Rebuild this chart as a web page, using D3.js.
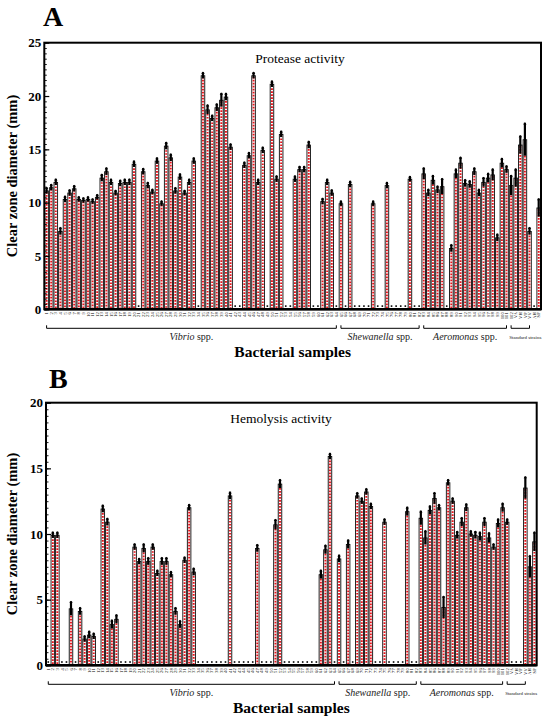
<!DOCTYPE html>
<html><head><meta charset="utf-8">
<script src="https://cdn.jsdelivr.net/npm/d3@7"></script>
<style>body{margin:0;background:#fff}svg{display:block}</style>
</head><body>
<svg id="chart" width="550" height="722"></svg>
<script>
const sampleLabels = ["1","2","3","4","5","6","7","8","9","10","11","12","13","14","15","16","17","18","19","20",
"21","22","23","24","25","26","27","28","29","30","31","32","33","34","35","36","37","38","39","40",
"41","42","43","44","45","46","47","48","49","50","51","52","53","54","55","56","57","58","59","60",
"61","62","63","64","65","66","67","68","69","70","71","72","73","74","75","76","77","78","79","80",
"81","82","83","84","85","86","87","88","89","90","91","92","93","94","95","96","97","98","99","100",
"101","102","VA","VH","VP","VV","AH","SP"];

const proteaseValues = [11.1,11.4,11.9,7.3,10.3,10.9,11.3,10.3,10.2,10.3,
10.1,10.5,12.3,12.9,11.9,10.9,11.8,11.9,11.9,13.6,
0,12.9,11.6,11.0,13.9,9.9,15.3,14.2,11.1,12.4,
10.9,11.9,13.9,0,21.9,18.7,17.9,18.9,19.6,19.9,
15.2,0,0,13.5,14.4,21.9,11.9,14.9,0,21.1,
12.2,16.4,0,0,12.2,13.1,13.1,15.4,0,0,
10.1,11.9,10.9,0,9.9,0,11.7,0,0,0,
0,9.9,0,0,11.6,0,0,0,0,12.2,
0,0,12.7,10.9,12.1,11.2,11.5,0,5.7,12.7,
13.7,11.8,11.7,12.9,10.9,11.9,12.3,12.6,6.7,13.7,
13.1,11.6,12.3,15.4,15.9,7.3,0,9.5];

const proteaseErrors = [0.25,0.25,0.25,0.3,0.25,0.25,0.25,0.2,0.2,0.2,
0.2,0.2,0.3,0.3,0.25,0.2,0.25,0.25,0.25,0.25,
0,0.25,0.25,0.2,0.25,0.2,0.3,0.3,0.25,0.25,
0.2,0.25,0.25,0,0.25,0.4,0.25,0.3,0.6,0.3,
0.25,0,0,0.25,0.25,0.25,0.25,0.25,0,0.25,
0.25,0.25,0,0,0.25,0.25,0.25,0.3,0,0,
0.25,0.25,0.25,0,0.2,0,0.25,0,0,0,
0,0.2,0,0,0.25,0,0,0,0,0.2,
0,0,0.5,0.3,0.4,0.3,0.7,0,0.3,0.4,
0.5,0.3,0.3,0.3,0.3,0.4,0.4,0.5,0.3,0.4,
0.3,0.9,0.8,0.8,1.5,0.3,0,0.8];

const hemolysisValues = [0,9.9,9.9,0,0,4.3,0,4.1,2.0,2.3,
2.2,0,11.9,10.9,3.1,3.5,0,0,0,9.0,
7.9,8.9,7.9,9.0,7.0,7.9,7.9,6.9,4.1,3.1,
8.0,12.0,7.1,0,0,0,0,0,0,0,
12.9,0,0,0,0,0,8.9,0,0,0,
10.7,13.8,0,0,0,0,0,0,0,0,
6.9,8.8,15.9,0,8.1,0,9.2,0,12.9,12.5,
13.2,12.1,0,0,10.9,0,0,0,0,11.7,
0,0,11.2,9.7,11.8,12.7,12.0,4.4,13.9,12.5,
9.9,10.9,12.0,10.0,9.9,9.8,10.9,9.7,9.0,10.8,
12.0,10.9,0,0,0,13.5,7.5,9.4];

const hemolysisErrors = [0,0.2,0.2,0,0,0.5,0,0.25,0.2,0.25,
0.2,0,0.25,0.25,0.3,0.3,0,0,0,0.2,
0.2,0.3,0.25,0.2,0.2,0.25,0.25,0.2,0.25,0.25,
0.2,0.2,0.25,0,0,0,0,0,0,0,
0.25,0,0,0,0,0,0.25,0,0,0,
0.35,0.3,0,0,0,0,0,0,0,0,
0.3,0.3,0.2,0,0.25,0,0.3,0,0.2,0.2,
0.2,0.2,0,0,0.2,0,0,0,0,0.3,
0,0,0.5,0.5,0.3,0.4,0.2,0.8,0.2,0.2,
0.25,0.3,0.25,0.2,0.25,0.3,0.3,0.35,0.2,0.3,
0.3,0.2,0,0,0,0.8,0.8,0.7];

const groupNames = ["Vibrio","Shewanella","Aeromonas","Standard strains"];
const groupSuffix = [" spp."," spp."," spp.",""];
const groupStart = [0,64,82,101];
const groupEnd = [63,81,100,105];

const panelLetters = ["A","B"];
const panelTitles = ["Protease activity","Hemolysis activity"];
const yMaxes = [25,20];
const yTickValues = [[0,5,10,15,20,25],[0,5,10,15,20]];
const yTitle = "Clear zone diameter (mm)";
const xTitle = "Bacterial samples";

const font = "'Liberation Serif','Times New Roman',serif";
const svg = d3.select("#chart");

const panels = [
  {letter:panelLetters[0], title:panelTitles[0], values:proteaseValues, errors:proteaseErrors, yMax:yMaxes[0], ticks:yTickValues[0],
   left:44.3, right:541, top:42.7, bottom:309.3, letterY:26, letterX:43, zeroMark:0.3, titleX:300},
  {letter:panelLetters[1], title:panelTitles[1], values:hemolysisValues, errors:hemolysisErrors, yMax:yMaxes[1], ticks:yTickValues[1],
   left:46, right:536.7, top:402.7, bottom:665.3, letterY:388, letterX:49, zeroMark:0.25, titleX:281}
];

panels.forEach(p => {
  const n = sampleLabels.length;
  const x = d3.scaleBand().domain(d3.range(n)).range([p.left, p.right]).paddingInner(0.22).paddingOuter(0.11);
  const y = d3.scaleLinear().domain([0, p.yMax]).range([p.bottom, p.top]);
  const g = svg.append("g");
  const bw = x.bandwidth();
  const idx = d3.range(n);
  const barIdx = idx.filter(i => p.values[i] > 0);
  const zeroIdx = idx.filter(i => !(p.values[i] > 0));

  // bars
  g.selectAll("rect.bar").data(barIdx).join("rect").attr("class","bar")
    .attr("x", i => x(i)).attr("y", i => y(p.values[i]))
    .attr("width", bw).attr("height", i => y(0) - y(p.values[i]))
    .attr("fill", "#d8d8d8").attr("stroke", "#111").attr("stroke-width", 0.9);
  g.selectAll("line.dash").data(barIdx).join("line").attr("class","dash")
    .attr("x1", i => x(i) + bw/2).attr("x2", i => x(i) + bw/2)
    .attr("y1", i => y(p.values[i]) + 1).attr("y2", y(0))
    .attr("stroke", "#fff").attr("stroke-width", 1.9);
  g.selectAll("line.dash2").data(barIdx).join("line").attr("class","dash2")
    .attr("x1", i => x(i) + bw/2).attr("x2", i => x(i) + bw/2)
    .attr("y1", i => y(p.values[i]) + 1).attr("y2", y(0))
    .attr("stroke", "#e5121a").attr("stroke-width", 1.9).attr("stroke-dasharray", "1.7,1.3");

  // error bars
  g.selectAll("line.err").data(barIdx).join("line").attr("class","err")
    .attr("x1", i => x(i) + bw/2).attr("x2", i => x(i) + bw/2)
    .attr("y1", i => y(p.values[i] - p.errors[i])).attr("y2", i => y(p.values[i] + p.errors[i]) - 1)
    .attr("stroke", "#000").attr("stroke-width", 2.2);
  g.selectAll("path.cap").data(barIdx).join("path").attr("class","cap")
    .attr("d", i => {
      const cx = x(i) + bw/2, ty = y(p.values[i] + p.errors[i]) - 1.5;
      return `M${cx - 1.7},${ty + 2.3}L${cx},${ty}L${cx + 1.7},${ty + 2.3}Z`;
    })
    .attr("fill", "#000");

  // zero markers
  g.selectAll("rect.zero").data(zeroIdx).join("rect").attr("class","zero")
    .attr("x", i => x(i) + bw/2 - 0.8).attr("y", y(p.zeroMark) - 0.8)
    .attr("width", 1.6).attr("height", 1.6).attr("fill", "#000");

  // y axis minor ticks
  const minor = d3.range(0, p.yMax + 0.001, 0.5);
  g.append("g").attr("transform", `translate(${p.left},0)`)
    .call(d3.axisLeft(y).tickValues(minor).tickSize(-2.5).tickFormat(""))
    .call(a => a.select(".domain").remove())
    .call(a => a.selectAll("line").attr("stroke", "#000").attr("stroke-width", 0.9));
  // major ticks + labels
  g.append("g").attr("transform", `translate(${p.left},0)`)
    .call(d3.axisLeft(y).tickValues(p.ticks).tickSize(-5).tickPadding(3).tickFormat(d3.format("d")))
    .call(a => a.select(".domain").remove())
    .call(a => a.selectAll("line").attr("stroke", "#000").attr("stroke-width", 1.2))
    .call(a => a.selectAll("text").attr("font-family", font).attr("font-weight", "bold")
      .attr("font-size", 13).attr("fill", "#000"));

  // frame
  g.append("rect").attr("x", p.left).attr("y", p.top).attr("width", p.right - p.left).attr("height", p.bottom - p.top)
    .attr("fill", "none").attr("stroke", "#000").attr("stroke-width", 2);
  g.append("line").attr("x1", p.left).attr("x2", p.right).attr("y1", y(0)).attr("y2", y(0))
    .attr("stroke", "#000").attr("stroke-width", 2.6);

  // sample labels
  g.selectAll("text.sl").data(idx).join("text").attr("class","sl")
    .attr("transform", i => `translate(${x(i) + bw/2 + 1.6},${p.bottom + 3}) rotate(-90)`)
    .attr("text-anchor", "end").attr("font-family", font).attr("font-size", 4.6).attr("fill", "#000")
    .text(i => sampleLabels[i]);

  // group brackets
  const by = p.bottom + 19;
  groupNames.forEach((name, k) => {
    const x0 = x(groupStart[k]) + bw/2, x1 = x(groupEnd[k]) + bw/2;
    g.append("path").attr("d", `M${x0},${by - 3}V${by}H${x1}V${by - 3}`)
      .attr("fill", "none").attr("stroke", "#000").attr("stroke-width", 1);
    const t = g.append("text").attr("x", (x0 + x1) / 2).attr("y", p.bottom + 31)
      .attr("text-anchor", "middle").attr("font-family", font).attr("fill", "#222");
    if (groupSuffix[k]) {
      t.attr("font-size", 10);
      t.append("tspan").attr("font-style", "italic").text(name);
      t.append("tspan").text(groupSuffix[k]);
    } else {
      t.attr("font-size", 5).attr("x", (x0 + x1) / 2 + 5).attr("y", p.bottom + 30).text(name);
    }
  });

  // titles
  g.append("text").attr("x", (p.left + p.right) / 2).attr("y", p.bottom + 48)
    .attr("text-anchor", "middle").attr("font-family", font).attr("font-weight", "bold")
    .attr("font-size", 15.5).attr("fill", "#000").text(xTitle);
  g.append("text").attr("transform", `translate(17,${(p.top + p.bottom) / 2}) rotate(-90)`)
    .attr("text-anchor", "middle").attr("font-family", font).attr("font-weight", "bold")
    .attr("font-size", 14.5).attr("fill", "#000").text(yTitle);
  g.append("text").attr("x", p.titleX).attr("y", p.top + 20)
    .attr("text-anchor", "middle").attr("font-family", font)
    .attr("font-size", 13.5).attr("fill", "#000").text(p.title);
  g.append("text").attr("x", p.letterX).attr("y", p.letterY)
    .attr("font-family", font).attr("font-weight", "bold")
    .attr("font-size", 28).attr("fill", "#000").text(p.letter);
});
</script>
</body></html>
